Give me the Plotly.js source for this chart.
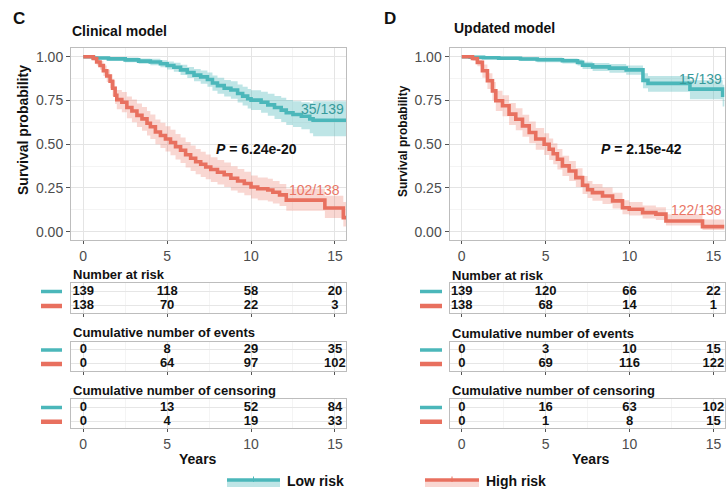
<!DOCTYPE html>
<html>
<head>
<meta charset="utf-8">
<script src="https://cdn.plot.ly/plotly-3.0.1.min.js"></script>
<style>
  html, body { margin: 0; padding: 0; background: #fff; }
  #chart { width: 726px; height: 490px; }
</style>
</head>
<body>
<div id="chart"></div>
<script>
// ---------- Kaplan–Meier estimates: Clinical model ----------
const clinicalLowTime  = [0, 0.6, 1.5, 2.5, 3.3, 4.0, 4.6, 5.0, 5.4, 5.8, 6.2, 6.6, 7.0, 7.4, 7.7, 8.0, 8.4, 8.8, 9.2, 9.5, 9.8, 10.0, 10.6, 11.0, 11.4, 11.8, 12.1, 12.5, 13.0, 13.5, 13.7, 15.66];
const clinicalLowSurv  = [1, 0.993, 0.988, 0.982, 0.975, 0.97, 0.96, 0.95, 0.94, 0.925, 0.91, 0.895, 0.885, 0.87, 0.85, 0.835, 0.82, 0.81, 0.79, 0.775, 0.76, 0.752, 0.74, 0.725, 0.71, 0.695, 0.68, 0.67, 0.66, 0.645, 0.637, 0.637];
const clinicalLowLower = [1, 0.986, 0.978, 0.969, 0.96, 0.952, 0.94, 0.927, 0.914, 0.896, 0.878, 0.86, 0.846, 0.829, 0.806, 0.789, 0.772, 0.76, 0.738, 0.721, 0.704, 0.695, 0.68, 0.662, 0.644, 0.627, 0.61, 0.598, 0.585, 0.562, 0.545, 0.54];
const clinicalLowUpper = [1, 1, 0.998, 0.995, 0.99, 0.988, 0.98, 0.973, 0.966, 0.954, 0.942, 0.93, 0.922, 0.91, 0.893, 0.88, 0.867, 0.86, 0.842, 0.829, 0.816, 0.809, 0.8, 0.788, 0.776, 0.765, 0.753, 0.746, 0.74, 0.735, 0.745, 0.75];

const clinicalHighTime  = [0, 0.6, 0.8, 1.0, 1.2, 1.4, 1.6, 1.75, 1.9, 2.0, 2.3, 2.6, 2.9, 3.2, 3.5, 3.8, 4.0, 4.3, 4.6, 4.9, 5.2, 5.5, 5.8, 6.1, 6.4, 6.7, 7.0, 7.3, 7.6, 8.0, 8.4, 8.8, 9.2, 9.6, 10.0, 10.4, 11.0, 11.3, 11.7, 12.1, 14.4, 15.5, 15.66];
const clinicalHighSurv  = [1, 0.99, 0.97, 0.95, 0.92, 0.89, 0.86, 0.82, 0.78, 0.755, 0.74, 0.71, 0.69, 0.665, 0.645, 0.62, 0.60, 0.57, 0.55, 0.53, 0.51, 0.485, 0.465, 0.44, 0.42, 0.40, 0.385, 0.37, 0.355, 0.34, 0.325, 0.305, 0.29, 0.275, 0.255, 0.245, 0.238, 0.225, 0.21, 0.18, 0.135, 0.08, 0.08];
const clinicalHighLower = [1, 0.98, 0.95, 0.925, 0.89, 0.855, 0.82, 0.775, 0.73, 0.70, 0.682, 0.648, 0.625, 0.598, 0.577, 0.55, 0.53, 0.499, 0.478, 0.458, 0.437, 0.412, 0.392, 0.367, 0.347, 0.328, 0.313, 0.299, 0.284, 0.27, 0.255, 0.236, 0.222, 0.208, 0.189, 0.18, 0.173, 0.161, 0.147, 0.12, 0.078, 0.03, 0.03];
const clinicalHighUpper = [1, 1.0, 0.99, 0.975, 0.95, 0.925, 0.90, 0.865, 0.83, 0.81, 0.798, 0.772, 0.755, 0.732, 0.713, 0.69, 0.67, 0.641, 0.622, 0.602, 0.583, 0.558, 0.538, 0.513, 0.493, 0.472, 0.457, 0.441, 0.426, 0.41, 0.395, 0.374, 0.358, 0.342, 0.321, 0.31, 0.303, 0.289, 0.273, 0.245, 0.205, 0.17, 0.17];

// ---------- Kaplan–Meier estimates: Updated model ----------
const updatedLowTime  = [0, 0.5, 1.3, 2.2, 3.5, 4.5, 6.0, 6.9, 7.2, 7.8, 8.8, 9.8, 10.8, 11.1, 13.6, 15.55, 15.66];
const updatedLowSurv  = [1, 0.997, 0.994, 0.991, 0.987, 0.983, 0.977, 0.968, 0.952, 0.942, 0.935, 0.925, 0.865, 0.848, 0.815, 0.78, 0.78];
const updatedLowLower = [1, 0.991, 0.986, 0.981, 0.975, 0.969, 0.961, 0.95, 0.93, 0.918, 0.909, 0.897, 0.82, 0.80, 0.757, 0.715, 0.715];
const updatedLowUpper = [1, 1, 1, 1, 0.998, 0.995, 0.99, 0.984, 0.972, 0.964, 0.958, 0.95, 0.905, 0.89, 0.865, 0.84, 0.84];

const updatedHighTime  = [0, 0.64, 0.93, 1.23, 1.53, 1.83, 2.03, 2.43, 2.82, 3.22, 3.62, 4.02, 4.41, 4.91, 5.21, 5.45, 5.7, 6.0, 6.4, 6.8, 7.2, 7.5, 7.79, 8.39, 8.99, 9.58, 9.98, 10.78, 11.57, 12.17, 14.35, 15.66];
const updatedHighSurv  = [1, 0.99, 0.968, 0.92, 0.863, 0.805, 0.748, 0.72, 0.672, 0.643, 0.605, 0.567, 0.53, 0.5, 0.471, 0.445, 0.414, 0.376, 0.347, 0.309, 0.265, 0.24, 0.223, 0.204, 0.176, 0.137, 0.128, 0.109, 0.1, 0.061, 0.029, 0.029];
const updatedHighLower = [1, 0.975, 0.945, 0.88, 0.815, 0.75, 0.69, 0.66, 0.61, 0.58, 0.542, 0.505, 0.468, 0.438, 0.41, 0.385, 0.355, 0.318, 0.29, 0.255, 0.215, 0.192, 0.176, 0.158, 0.133, 0.10, 0.092, 0.075, 0.067, 0.035, 0.01, 0.01];
const updatedHighUpper = [1, 1.0, 0.985, 0.955, 0.905, 0.855, 0.805, 0.78, 0.735, 0.706, 0.668, 0.63, 0.592, 0.562, 0.532, 0.505, 0.473, 0.434, 0.404, 0.363, 0.318, 0.29, 0.272, 0.252, 0.222, 0.18, 0.17, 0.15, 0.14, 0.10, 0.07, 0.07];

// ---------- Risk tables ----------
const tableYears = [0, 5, 10, 15];
const clinicalRiskLow    = [139, 118, 58, 20];
const clinicalRiskHigh   = [138, 70, 22, 3];
const clinicalEventsLow  = [0, 8, 29, 35];
const clinicalEventsHigh = [0, 64, 97, 102];
const clinicalCensorLow  = [0, 13, 52, 84];
const clinicalCensorHigh = [0, 4, 19, 33];

const updatedRiskLow    = [139, 120, 66, 22];
const updatedRiskHigh   = [138, 68, 14, 1];
const updatedEventsLow  = [0, 3, 10, 15];
const updatedEventsHigh = [0, 69, 116, 122];
const updatedCensorLow  = [0, 16, 63, 102];
const updatedCensorHigh = [0, 1, 8, 15];

const groupNames = ['Low risk', 'High risk'];
const tableTitles = ['Number at risk', 'Cumulative number of events', 'Cumulative number of censoring'];

// ---------- styling ----------
const W = 726, H = 490;
const FONT = 'Liberation Sans, Arial, Helvetica, sans-serif';
const LOW = '#4bb7ba', HIGH = '#e8705f';
const LOW_FILL = 'rgba(75,183,186,0.36)', HIGH_FILL = 'rgba(232,112,95,0.28)';
const LOW_TEXT = '#369a9b', HIGH_TEXT = '#ea7565';
const px = v => v / W;
const py = v => 1 - v / H;

const X_RANGE = [-0.73, 15.66];
const LEFT_DOM = [px(71), px(346)];
const RIGHT_DOM = [px(449.5), px(724.5)];
const KM_DOM = [py(240.4), py(48)];
const TABLE_DOMS = [[py(312.7), py(283)], [py(370.5), py(341.5)], [py(428.3), py(399)]];

const traces = [];

function bandTraces(t, lo, hi, fill, xa, ya) {
  traces.push({ x: t, y: hi, xaxis: xa, yaxis: ya, mode: 'lines', line: { shape: 'hv', width: 0, color: fill },
    hoverinfo: 'skip', showlegend: false });
  traces.push({ x: t, y: lo, xaxis: xa, yaxis: ya, mode: 'lines', line: { shape: 'hv', width: 0, color: fill },
    fill: 'tonexty', fillcolor: fill, hoverinfo: 'skip', showlegend: false });
}
function curveTrace(t, s, color, name, xa, ya) {
  traces.push({ x: t, y: s, xaxis: xa, yaxis: ya, mode: 'lines', name: name,
    line: { shape: 'hv', width: 3.6, color: color }, showlegend: false });
}
function tableText(vals, row, xa, ya) {
  traces.push({ x: tableYears, y: tableYears.map(() => row), xaxis: xa, yaxis: ya, mode: 'text',
    text: vals.map(String), textposition: 'middle center', cliponaxis: false,
    textfont: { family: FONT, size: 13, color: '#111', weight: 'bold' }, hoverinfo: 'skip', showlegend: false });
}

// Clinical model panel
bandTraces(clinicalLowTime, clinicalLowLower, clinicalLowUpper, LOW_FILL, 'x', 'y');
bandTraces(clinicalHighTime, clinicalHighLower, clinicalHighUpper, HIGH_FILL, 'x', 'y');
curveTrace(clinicalLowTime, clinicalLowSurv, LOW, groupNames[0], 'x', 'y');
curveTrace(clinicalHighTime, clinicalHighSurv, HIGH, groupNames[1], 'x', 'y');
// Updated model panel
bandTraces(updatedLowTime, updatedLowLower, updatedLowUpper, LOW_FILL, 'x2', 'y2');
bandTraces(updatedHighTime, updatedHighLower, updatedHighUpper, HIGH_FILL, 'x2', 'y2');
curveTrace(updatedLowTime, updatedLowSurv, LOW, groupNames[0], 'x2', 'y2');
curveTrace(updatedHighTime, updatedHighSurv, HIGH, groupNames[1], 'x2', 'y2');

// tables: rows — low risk on top (2), high risk below (1)
const leftTables = [[clinicalRiskLow, clinicalRiskHigh], [clinicalEventsLow, clinicalEventsHigh], [clinicalCensorLow, clinicalCensorHigh]];
const rightTables = [[updatedRiskLow, updatedRiskHigh], [updatedEventsLow, updatedEventsHigh], [updatedCensorLow, updatedCensorHigh]];
leftTables.forEach((tb, i) => { const n = i + 3; tableText(tb[0], 2, 'x' + n, 'y' + n); tableText(tb[1], 1, 'x' + n, 'y' + n); });
rightTables.forEach((tb, i) => { const n = i + 6; tableText(tb[0], 2, 'x' + n, 'y' + n); tableText(tb[1], 1, 'x' + n, 'y' + n); });

const tickFont = { family: FONT, size: 14, color: '#4d4d4d' };
function xAxis(domain, anchor, showLabels) {
  return {
    domain: domain, anchor: anchor, range: X_RANGE, tick0: 0, dtick: 5,
    showgrid: true, gridcolor: '#e4e4e4', gridwidth: 1, zeroline: false,
    minor: { dtick: 2.5, showgrid: true, gridcolor: '#f1f1f1', gridwidth: 0.8 },
    showline: true, mirror: true, linecolor: '#bdbdbd', linewidth: 1,
    ticks: 'outside', ticklen: 3, tickcolor: '#555', tickwidth: 1,
    showticklabels: showLabels, tickfont: tickFont, fixedrange: true
  };
}
function kmY(anchor) {
  return {
    domain: KM_DOM, anchor: anchor, range: [-0.05, 1.05], tickvals: [0, 0.25, 0.5, 0.75, 1],
    tickformat: '.2f', showgrid: true, gridcolor: '#e4e4e4', zeroline: false,
    minor: { dtick: 0.125, showgrid: true, gridcolor: '#f1f1f1', gridwidth: 0.8 },
    showline: true, mirror: true, linecolor: '#bdbdbd', linewidth: 1,
    ticks: 'outside', ticklen: 4, tickcolor: '#555', tickfont: tickFont, fixedrange: true
  };
}
function tableY(domain, anchor) {
  return {
    domain: domain, anchor: anchor, range: [0.53, 2.6], tickvals: [1, 2], showticklabels: false,
    showgrid: true, gridcolor: '#e6e6e6', zeroline: false, ticks: '',
    showline: true, mirror: true, linecolor: '#bdbdbd', linewidth: 1, fixedrange: true
  };
}

const layout = {
  width: W, height: H, margin: { l: 0, r: 0, t: 0, b: 0 },
  paper_bgcolor: '#fff', plot_bgcolor: '#fff', showlegend: false,
  font: { family: FONT, color: '#111' },
  xaxis: xAxis(LEFT_DOM, 'y', true), yaxis: kmY('x'),
  xaxis2: xAxis(RIGHT_DOM, 'y2', true), yaxis2: kmY('x2'),
  shapes: [], annotations: []
};
TABLE_DOMS.forEach((d, i) => {
  const n = i + 3, m = i + 6, last = i === 2;
  layout['xaxis' + n] = xAxis(LEFT_DOM, 'y' + n, last);
  layout['yaxis' + n] = tableY(d, 'x' + n);
  layout['xaxis' + m] = xAxis(RIGHT_DOM, 'y' + m, last);
  layout['yaxis' + m] = tableY(d, 'x' + m);
});

const ann = layout.annotations, shp = layout.shapes;
function label(text, x, y, opts) {
  ann.push(Object.assign({ text: text, x: x, y: y, xref: 'paper', yref: 'paper', showarrow: false,
    xanchor: 'left', yanchor: 'middle', font: { family: FONT, size: 14, color: '#111', weight: 'bold' } }, opts || {}));
}

// panel letters and titles
label('C', px(11), py(18), { font: { family: FONT, size: 17, color: '#111', weight: 'bold' } });
label('D', px(382), py(18), { font: { family: FONT, size: 17, color: '#111', weight: 'bold' } });
label('Clinical model', px(70), py(31));
label('Updated model', px(452), py(28));

// y axis titles
label('Survival probability', px(23), py(130), { textangle: -90, xanchor: 'center' });
label('Survival probability', px(403), py(141), { textangle: -90, xanchor: 'center',
  font: { family: FONT, size: 12, color: '#111', weight: 'bold' } });

// x axis title under tables
label('Years', px(198), py(459), { xanchor: 'center' });
label('Years', px(591), py(459), { xanchor: 'center' });

// event counts and log-rank p-values on the curves
function dataLabel(text, xa, ya, x, y, color, anchor) {
  ann.push({ text: text, x: x, y: y, xref: xa, yref: ya, showarrow: false, xanchor: anchor || 'right',
    yanchor: 'middle', font: { family: FONT, size: 14, color: color } });
}
dataLabel('35/139', 'x', 'y', 15.64, 0.70, LOW_TEXT);
dataLabel('102/138', 'x', 'y', 15.45, 0.24, HIGH_TEXT);
dataLabel('<b><i>P</i> = 6.24e-20</b>', 'x', 'y', 7.8, 0.47, '#111', 'left');
dataLabel('15/139', 'x2', 'y2', 15.64, 0.875, LOW_TEXT);
dataLabel('122/138', 'x2', 'y2', 15.64, 0.125, HIGH_TEXT);
dataLabel('<b><i>P</i> = 2.15e-42</b>', 'x2', 'y2', 8.2, 0.47, '#111', 'left');

// table titles and strata keys
const titleFont = { family: FONT, size: 13, color: '#111', weight: 'bold' };
[274, 332, 390].forEach((y, i) => label(tableTitles[i], px(71), py(y), { font: titleFont }));
[275, 333, 390].forEach((y, i) => label(tableTitles[i], px(450), py(y), { font: titleFont }));
function key(x0, x1, ya) {
  shp.push({ type: 'line', xref: 'paper', yref: ya, x0: px(x0), x1: px(x1), y0: 2, y1: 2, line: { color: LOW, width: 3.5 } });
  shp.push({ type: 'line', xref: 'paper', yref: ya, x0: px(x0), x1: px(x1), y0: 1, y1: 1, line: { color: HIGH, width: 4.5 } });
}
['y3', 'y4', 'y5'].forEach(ya => key(41, 62, ya));
['y6', 'y7', 'y8'].forEach(ya => key(420, 442, ya));

// bottom legend
function legendItem(x0, x1, color, fill, text) {
  shp.push({ type: 'rect', xref: 'paper', yref: 'paper', x0: px(x0), x1: px(x1), y0: py(487), y1: py(479), fillcolor: fill, line: { width: 0 } });
  shp.push({ type: 'line', xref: 'paper', yref: 'paper', x0: px(x0), x1: px(x1), y0: py(480), y1: py(480), line: { color: color, width: 3.5 } });
  shp.push({ type: 'line', xref: 'paper', yref: 'paper', x0: px((x0 + x1) / 2), x1: px((x0 + x1) / 2), y0: py(476.5), y1: py(482), line: { color: color, width: 1 } });
  label(text, px(x1 + 5), py(481));
}
legendItem(227, 280, LOW, LOW_FILL, groupNames[0]);
legendItem(425, 479, HIGH, HIGH_FILL, groupNames[1]);

Plotly.newPlot('chart', traces, layout, { staticPlot: true, displayModeBar: false });
</script>
</body>
</html>
